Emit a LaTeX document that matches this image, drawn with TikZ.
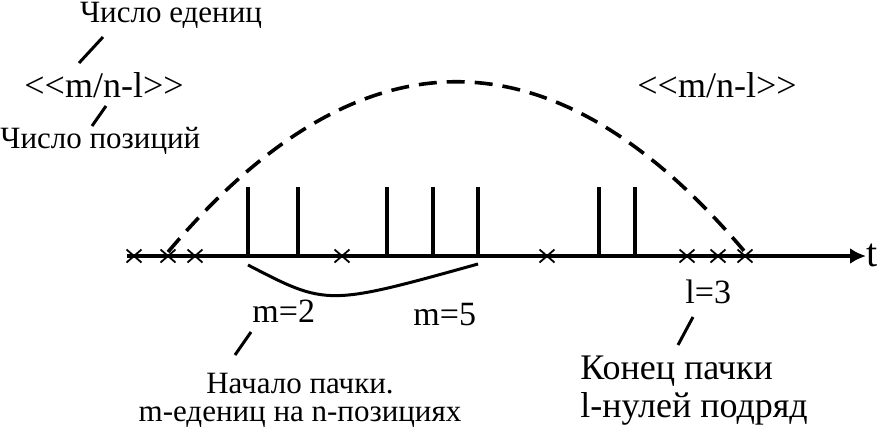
\documentclass[tikz,border=0pt]{standalone}
\usepackage{fontspec}
\setmainfont{Liberation Serif}
\usetikzlibrary{arrows.meta}

\newcommand{\ratiotext}{<\kern0pt<m/n-l>\kern0pt>}

\begin{document}
\begin{tikzpicture}[
    x=0.5pt, y=-0.5pt,
    >={Latex[length=8pt, width=8pt]},
    lbl/.style={inner sep=0pt, font=\fontsize{15.5}{16}\selectfont},
    ratio/.style={inner sep=0pt, font=\fontsize{18}{18}\selectfont},
    val/.style={inner sep=0pt, font=\fontsize{17}{18}\selectfont},
    axis/.style={line width=2.3pt},
    pulse/.style={line width=2pt},
    zero/.style={line width=0.9pt},
    envelope/.style={line width=1.8pt, dash pattern=on 9pt off 5pt},
    pointer/.style={line width=1.5pt},
    span/.style={line width=1.5pt}
]
\useasboundingbox (0,0) rectangle (884,435);

% Legend
\node[lbl, anchor=base] (cnt_one) at (171,22) {Число едениц};
\node[ratio, anchor=base] (ratio_l) at (104,97) {\ratiotext};
\node[lbl, anchor=base west] (cnt_pos) at (0,148) {Число позиций};
\node[ratio, anchor=base] (ratio_r) at (717,97) {\ratiotext};

\coordinate (p1a) at (103,37);
\coordinate (p1b) at (79,63);
\coordinate (p2a) at (106,106);
\coordinate (p2b) at (92,126);
\draw[pointer] (p1a) -- (p1b);
\draw[pointer] (p2a) -- (p2b);

% Time axis
\coordinate (ax_a) at (127,256);
\node[inner sep=0pt, anchor=west, font=\fontsize{20}{20}\selectfont] (t_lbl) at (866,255) {t};
\draw[axis, ->] (ax_a) -- (ax_a -| t_lbl.west);

% Ones
\foreach \x in {248,298,387,433,478,599,635}
    \draw[pulse] (\x,256) -- (\x,187);

% Zeros
\foreach \x in {134,168,195,342,547,687,718,745}
    \draw[zero] (\x,256) ++(-7.5,-6.5) -- ++(15,13) ++(0,-13) -- ++(-15,13);

% Burst envelope
\coordinate (env_a) at (168,252);
\coordinate (env_b) at (745,252);
\draw[envelope] (env_a) .. controls (360,25) and (553,25) .. (env_b);

% Span of first ones
\coordinate (sp_a) at (248,265);
\coordinate (sp_b) at (478,264);
\draw[span] (sp_a) .. controls (327,306) .. (sp_b);

% Values
\node[val, anchor=base west] (m_two) at (252,322) {m=2};
\node[val, anchor=base west] (m_five) at (413,325) {m=5};
\node[val, anchor=base west] (l_three) at (685,303) {l=3};

\coordinate (p3a) at (251,332);
\coordinate (p3b) at (235,355);
\coordinate (p4a) at (693,317);
\coordinate (p4b) at (678,345);
\draw[pointer] (p3a) -- (p3b);
\draw[pointer] (p4a) -- (p4b);

% Burst start and end
\node[inner sep=0pt, align=center, anchor=base, font=\fontsize{15.5}{14}\selectfont] (start_lbl) at (300,421)
    {Начало пачки.\\m-едениц на n-позициях};
\node[inner sep=0pt, align=left, anchor=base west, font=\fontsize{18}{19}\selectfont] (end_lbl) at (580,417)
    {Конец пачки\\l-нулей подряд};

\end{tikzpicture}
\end{document}
